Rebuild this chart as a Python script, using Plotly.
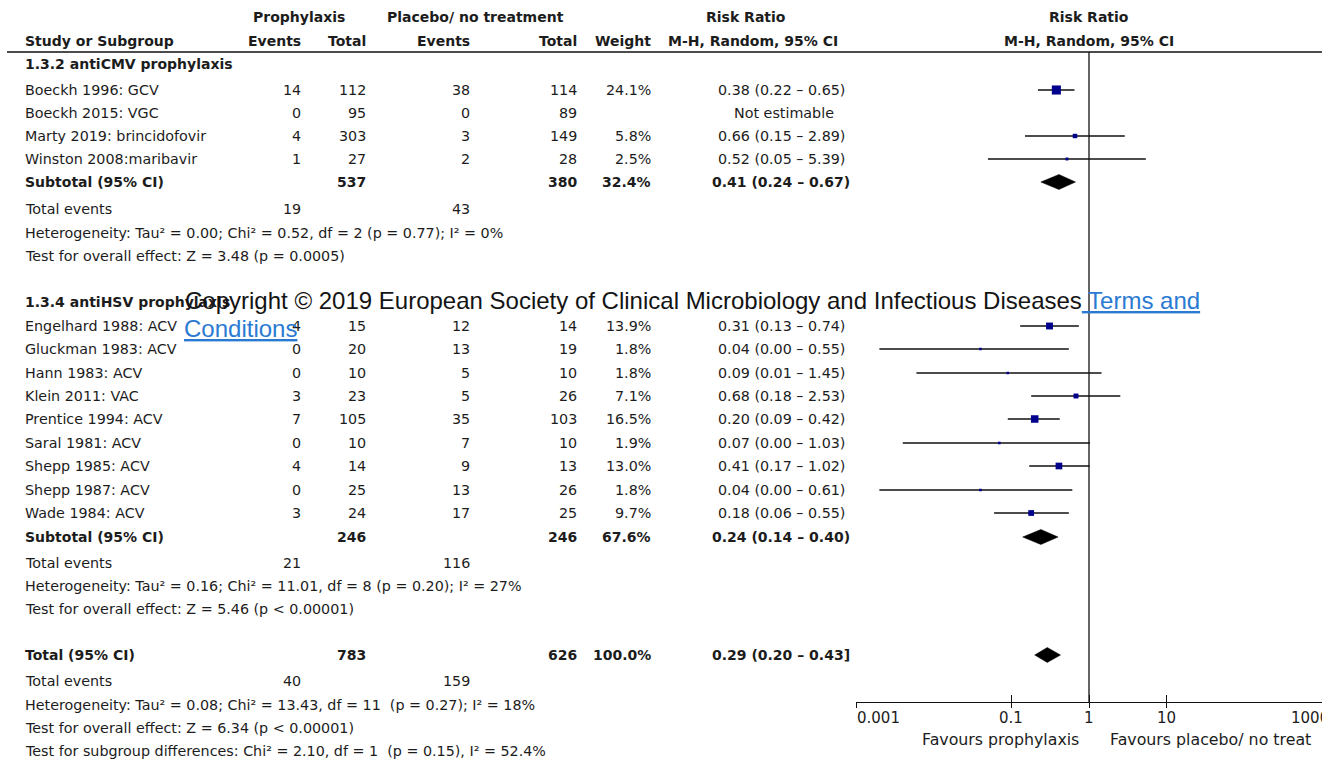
import numpy as np
import plotly.graph_objects as go

W, H = 1322, 761

# ---------------- data ----------------
g1_names = ["Boeckh 1996: GCV", "Boeckh 2015: VGC", "Marty 2019: brincidofovir", "Winston 2008:maribavir"]
g1_ev_p = [14, 0, 4, 1]
g1_tot_p = [112, 95, 303, 27]
g1_ev_c = [38, 0, 3, 2]
g1_tot_c = [114, 89, 149, 28]
g1_weight = [24.1, None, 5.8, 2.5]
g1_rr = [0.38, None, 0.66, 0.52]
g1_lo = [0.22, None, 0.15, 0.05]
g1_hi = [0.65, None, 2.89, 5.39]

g2_names = ["Engelhard 1988: ACV", "Gluckman 1983: ACV", "Hann 1983: ACV", "Klein 2011: VAC",
            "Prentice 1994: ACV", "Saral 1981: ACV", "Shepp 1985: ACV", "Shepp 1987: ACV", "Wade 1984: ACV"]
g2_ev_p = [4, 0, 0, 3, 7, 0, 4, 0, 3]
g2_tot_p = [15, 20, 10, 23, 105, 10, 14, 25, 24]
g2_ev_c = [12, 13, 5, 5, 35, 7, 9, 13, 17]
g2_tot_c = [14, 19, 10, 26, 103, 10, 13, 26, 25]
g2_weight = [13.9, 1.8, 1.8, 7.1, 16.5, 1.9, 13.0, 1.8, 9.7]
g2_rr = [0.31, 0.04, 0.09, 0.68, 0.20, 0.07, 0.41, 0.04, 0.18]
g2_lo = [0.13, 0.002, 0.006, 0.18, 0.09, 0.004, 0.17, 0.002, 0.06]
g2_hi = [0.74, 0.55, 1.45, 2.53, 0.42, 1.03, 1.02, 0.61, 0.55]

sub_labels = ["1.3.2 antiCMV prophylaxis", "1.3.4 antiHSV prophylaxis"]
sub_tot_p = [537, 246]
sub_tot_c = [380, 246]
sub_weight = [32.4, 67.6]
sub_rr = [0.41, 0.24]
sub_lo = [0.24, 0.14]
sub_hi = [0.67, 0.40]
sub_events_p = [19, 21]
sub_events_c = [43, 116]
sub_het = ["Heterogeneity: Tau² = 0.00; Chi² = 0.52, df = 2 (p = 0.77); I² = 0%",
           "Heterogeneity: Tau² = 0.16; Chi² = 11.01, df = 8 (p = 0.20); I² = 27%"]
sub_test = ["Test for overall effect: Z = 3.48 (p = 0.0005)",
            "Test for overall effect: Z = 5.46 (p &lt; 0.00001)"]

tot_p, tot_c, tot_weight = 783, 626, 100.0
tot_rr, tot_lo, tot_hi = 0.29, 0.20, 0.43
tot_events_p, tot_events_c = 40, 159
tot_het = "Heterogeneity: Tau² = 0.08; Chi² = 13.43, df = 11  (p = 0.27); I² = 18%"
tot_test = "Test for overall effect: Z = 6.34 (p &lt; 0.00001)"
tot_subgrp = "Test for subgroup differences: Chi² = 2.10, df = 1  (p = 0.15), I² = 52.4%"

tick_vals = [0.001, 0.1, 1, 10, 1000]
tick_text = ["0.001", "0.1", "1", "10", "1000"]
null_value = 1

# ---------------- layout constants ----------------
FONT = "DejaVu Sans, Liberation Sans, Arial, sans-serif"
BFONT = "DejaVu Sans, Liberation Sans, Arial, sans-serif"
TXT = "#1c1c1c"
FS = 14.3
BS = 14
X_NAME, X_EVP, X_TOTP, X_EVC, X_TOTC, X_W, X_CI = 23, 303, 368, 472, 579, 653, 781
Y_H1, Y_H2, Y_RULE = 17, 41, 52
G1_TITLE, G1_ROWS, G1_SUB, G1_EV, G1_HET, G1_TEST = 64, [90, 113, 136, 159], 182, 209, 233, 256
G2_TITLE, G2_ROWS = 302, [326, 349, 373, 396, 419, 443, 466, 490, 513]
G2_SUB, G2_EV, G2_HET, G2_TEST = 537, 563, 586, 609
T_ROW, T_EV, T_HET, T_TEST, T_SG = 655, 681, 705, 728, 751
AX_Y = 702
AX_X0 = 856
DIAM_H = 7.5
SQ_COLOR = "#00008c"

ann = []


def t(x, y, s, anchor="left", bold=False, size=None, color=TXT, xref="x"):
    if bold:
        s = f"<b>{s}</b>"
    ann.append(dict(x=x, y=y, xref=xref, yref="y", text=s, showarrow=False,
                    xanchor=anchor, yanchor="middle",
                    font=dict(family=BFONT if bold else FONT,
                              size=size if size else (BS if bold else FS), color=color)))


def ci_str(r, lo, hi, close=")"):
    return f"{r:.2f} ({lo:.2f} – {hi:.2f}{close}"


# headers
t(299, Y_H1, "Prophylaxis", "center", bold=True)
t(475, Y_H1, "Placebo/ no treatment", "center", bold=True)
t(746, Y_H1, "Risk Ratio", "center", bold=True)
t(np.log10(null_value), Y_H1, "Risk Ratio", "center", bold=True, xref="x2")
t(X_NAME, Y_H2, "Study or Subgroup", bold=True)
t(X_EVP, Y_H2, "Events", "right", bold=True)
t(X_TOTP, Y_H2, "Total", "right", bold=True)
t(X_EVC, Y_H2, "Events", "right", bold=True)
t(X_TOTC, Y_H2, "Total", "right", bold=True)
t(X_W, Y_H2, "Weight", "right", bold=True)
t(753, Y_H2, "M-H, Random, 95% CI", "center", bold=True)
t(np.log10(null_value), Y_H2, "M-H, Random, 95% CI", "center", bold=True, xref="x2")

fig = go.Figure()

groups = [
    (g1_names, g1_ev_p, g1_tot_p, g1_ev_c, g1_tot_c, g1_weight, g1_rr, g1_lo, g1_hi,
     G1_TITLE, G1_ROWS, G1_SUB, G1_EV, G1_HET, G1_TEST),
    (g2_names, g2_ev_p, g2_tot_p, g2_ev_c, g2_tot_c, g2_weight, g2_rr, g2_lo, g2_hi,
     G2_TITLE, G2_ROWS, G2_SUB, G2_EV, G2_HET, G2_TEST),
]

for gi, (names, evp, totp, evc, totc, wts, rr, lo, hi, ytitle, yrows, ysub, yev, yhet, ytest) in enumerate(groups):
    t(X_NAME, ytitle, sub_labels[gi], bold=True)
    lx, ly, mx, my, ms = [], [], [], [], []
    for i, nm in enumerate(names):
        y = yrows[i]
        t(X_NAME, y, nm)
        t(X_EVP, y, str(evp[i]), "right")
        t(X_TOTP, y, str(totp[i]), "right")
        t(X_EVC, y, str(evc[i]), "right")
        t(X_TOTC, y, str(totc[i]), "right")
        if wts[i] is not None:
            t(X_W, y, f"{wts[i]:.1f}%", "right")
            t(X_CI, y, ci_str(rr[i], lo[i], hi[i]), "center")
            lx += [lo[i], hi[i], None]
            ly += [y, y, None]
            mx.append(rr[i])
            my.append(y)
            ms.append(max(2.5, 1.85 * np.sqrt(wts[i])))
        else:
            t(X_CI + 3, y, "Not estimable", "center")
    fig.add_trace(go.Scatter(x=lx, y=ly, mode="lines", xaxis="x2", yaxis="y",
                             line=dict(color="#111111", width=1.3), hoverinfo="skip", showlegend=False))
    fig.add_trace(go.Scatter(x=mx, y=my, mode="markers", xaxis="x2", yaxis="y",
                             marker=dict(symbol="square", size=ms, color=SQ_COLOR, opacity=1,
                                         line=dict(width=0)),
                             showlegend=False))
    # subtotal
    t(X_NAME, ysub, "Subtotal (95% CI)", bold=True)
    t(X_TOTP, ysub, str(sub_tot_p[gi]), "right", bold=True)
    t(X_TOTC, ysub, str(sub_tot_c[gi]), "right", bold=True)
    t(X_W, ysub, f"{sub_weight[gi]:.1f}%", "right", bold=True)
    t(X_CI, ysub, ci_str(sub_rr[gi], sub_lo[gi], sub_hi[gi]), "center", bold=True)
    fig.add_trace(go.Scatter(
        x=[sub_lo[gi], sub_rr[gi], sub_hi[gi], sub_rr[gi], sub_lo[gi]],
        y=[ysub, ysub - DIAM_H, ysub, ysub + DIAM_H, ysub],
        mode="lines", fill="toself", fillcolor="#000000", line=dict(color="#000000", width=0.5),
        xaxis="x2", yaxis="y", hoverinfo="skip", showlegend=False))
    t(X_NAME, yev, "Total events")
    t(X_EVP, yev, str(sub_events_p[gi]), "right")
    t(X_EVC, yev, str(sub_events_c[gi]), "right")
    t(X_NAME, yhet, sub_het[gi])
    t(X_NAME, ytest, sub_test[gi])

# overall
t(X_NAME, T_ROW, "Total (95% CI)", bold=True)
t(X_TOTP, T_ROW, str(tot_p), "right", bold=True)
t(X_TOTC, T_ROW, str(tot_c), "right", bold=True)
t(X_W, T_ROW, f"{tot_weight:.1f}%", "right", bold=True)
t(X_CI, T_ROW, ci_str(tot_rr, tot_lo, tot_hi, "]"), "center", bold=True)
fig.add_trace(go.Scatter(
    x=[tot_lo, tot_rr, tot_hi, tot_rr, tot_lo],
    y=[T_ROW, T_ROW - DIAM_H, T_ROW, T_ROW + DIAM_H, T_ROW],
    mode="lines", fill="toself", fillcolor="#000000", line=dict(color="#000000", width=0.5),
    xaxis="x2", yaxis="y", hoverinfo="skip", showlegend=False))
t(X_NAME, T_EV, "Total events")
t(X_EVP, T_EV, str(tot_events_p), "right")
t(X_EVC, T_EV, str(tot_events_c), "right")
t(X_NAME, T_HET, tot_het)
t(X_NAME, T_TEST, tot_test)
t(X_NAME, T_SG, tot_subgrp)

# null line
fig.add_trace(go.Scatter(x=[null_value, null_value], y=[Y_RULE, AX_Y], mode="lines",
                         xaxis="x2", yaxis="y", line=dict(color="#111111", width=1.3),
                         hoverinfo="skip", showlegend=False))
# dummy trace for the overlay tick axis
fig.add_trace(go.Scatter(x=[], y=[], xaxis="x3", yaxis="y", showlegend=False))

# axis tick labels
TY = 718
for v, s in zip(tick_vals, tick_text):
    if v == tick_vals[0]:
        anchor, shift = "left", -1
    elif v == tick_vals[-1]:
        anchor, shift = "right", 9
    else:
        anchor, shift = "center", 0
    ann.append(dict(x=np.log10(v), y=TY, xref="x2", yref="y", text=s, showarrow=False,
                    xanchor=anchor, yanchor="middle", xshift=shift,
                    font=dict(family=FONT, size=15, color=TXT)))

ann.append(dict(x=np.log10(null_value), y=739, xref="x2", yref="y", text="Favours prophylaxis",
                showarrow=False, xanchor="right", yanchor="middle", xshift=-8,
                font=dict(family=FONT, size=15.8, color=TXT)))
ann.append(dict(x=np.log10(null_value), y=739, xref="x2", yref="y", text="Favours placebo/ no treat",
                showarrow=False, xanchor="left", yanchor="middle", xshift=19,
                font=dict(family=FONT, size=15.8, color=TXT)))

# copyright overlay
LINK = "#2a7ad3"
CFONT = "Liberation Sans, Arial, sans-serif"
ann.append(dict(x=183, y=300, xref="x", yref="y", showarrow=False, xanchor="left", yanchor="middle",
                text=("Copyright © 2019 European Society of Clinical Microbiology and Infectious Diseases"
                      f"<span style='color:{LINK}'><u> Terms and</u></span>"),
                font=dict(family=CFONT, size=24, color="#141414")))
ann.append(dict(x=182, y=328, xref="x", yref="y", showarrow=False, xanchor="left", yanchor="middle",
                text=f"<span style='color:{LINK}'><u>Conditions</u></span>",
                font=dict(family=CFONT, size=24, color=LINK)))

dom0 = AX_X0 / W
pos = 1 - AX_Y / H
fig.update_layout(
    width=W, height=H,
    margin=dict(l=0, r=0, t=0, b=0),
    paper_bgcolor="white", plot_bgcolor="white",
    showlegend=False,
    xaxis=dict(range=[0, W], domain=[0, 1], visible=False, fixedrange=True),
    yaxis=dict(range=[H, 0], domain=[0, 1], visible=False, fixedrange=True),
    xaxis2=dict(type="log", range=[-3, 3], domain=[dom0, 1], anchor="free", position=pos,
                showline=True, linecolor="#111111", linewidth=1.3,
                ticks="outside", ticklen=5, tickwidth=1.3, tickcolor="#111111",
                tickvals=tick_vals, showticklabels=False, showgrid=False, zeroline=False,
                fixedrange=True),
    xaxis3=dict(type="log", range=[-3, 3], domain=[dom0, 1], anchor="free", position=pos,
                overlaying="x2", showline=False,
                ticks="inside", ticklen=7, tickwidth=1.3, tickcolor="#111111",
                tickvals=tick_vals, showticklabels=False, showgrid=False, zeroline=False,
                fixedrange=True),
    annotations=ann,
    shapes=[dict(type="line", xref="x", yref="y", x0=7, x1=W, y0=Y_RULE, y1=Y_RULE,
                 line=dict(color="#111111", width=1.6))],
)

fig.write_html(
    "out.html",
    config=dict(displayModeBar=False),
    post_script="document.body.style.margin='0';document.body.style.padding='0';"
                "document.body.style.overflow='hidden';",
)
